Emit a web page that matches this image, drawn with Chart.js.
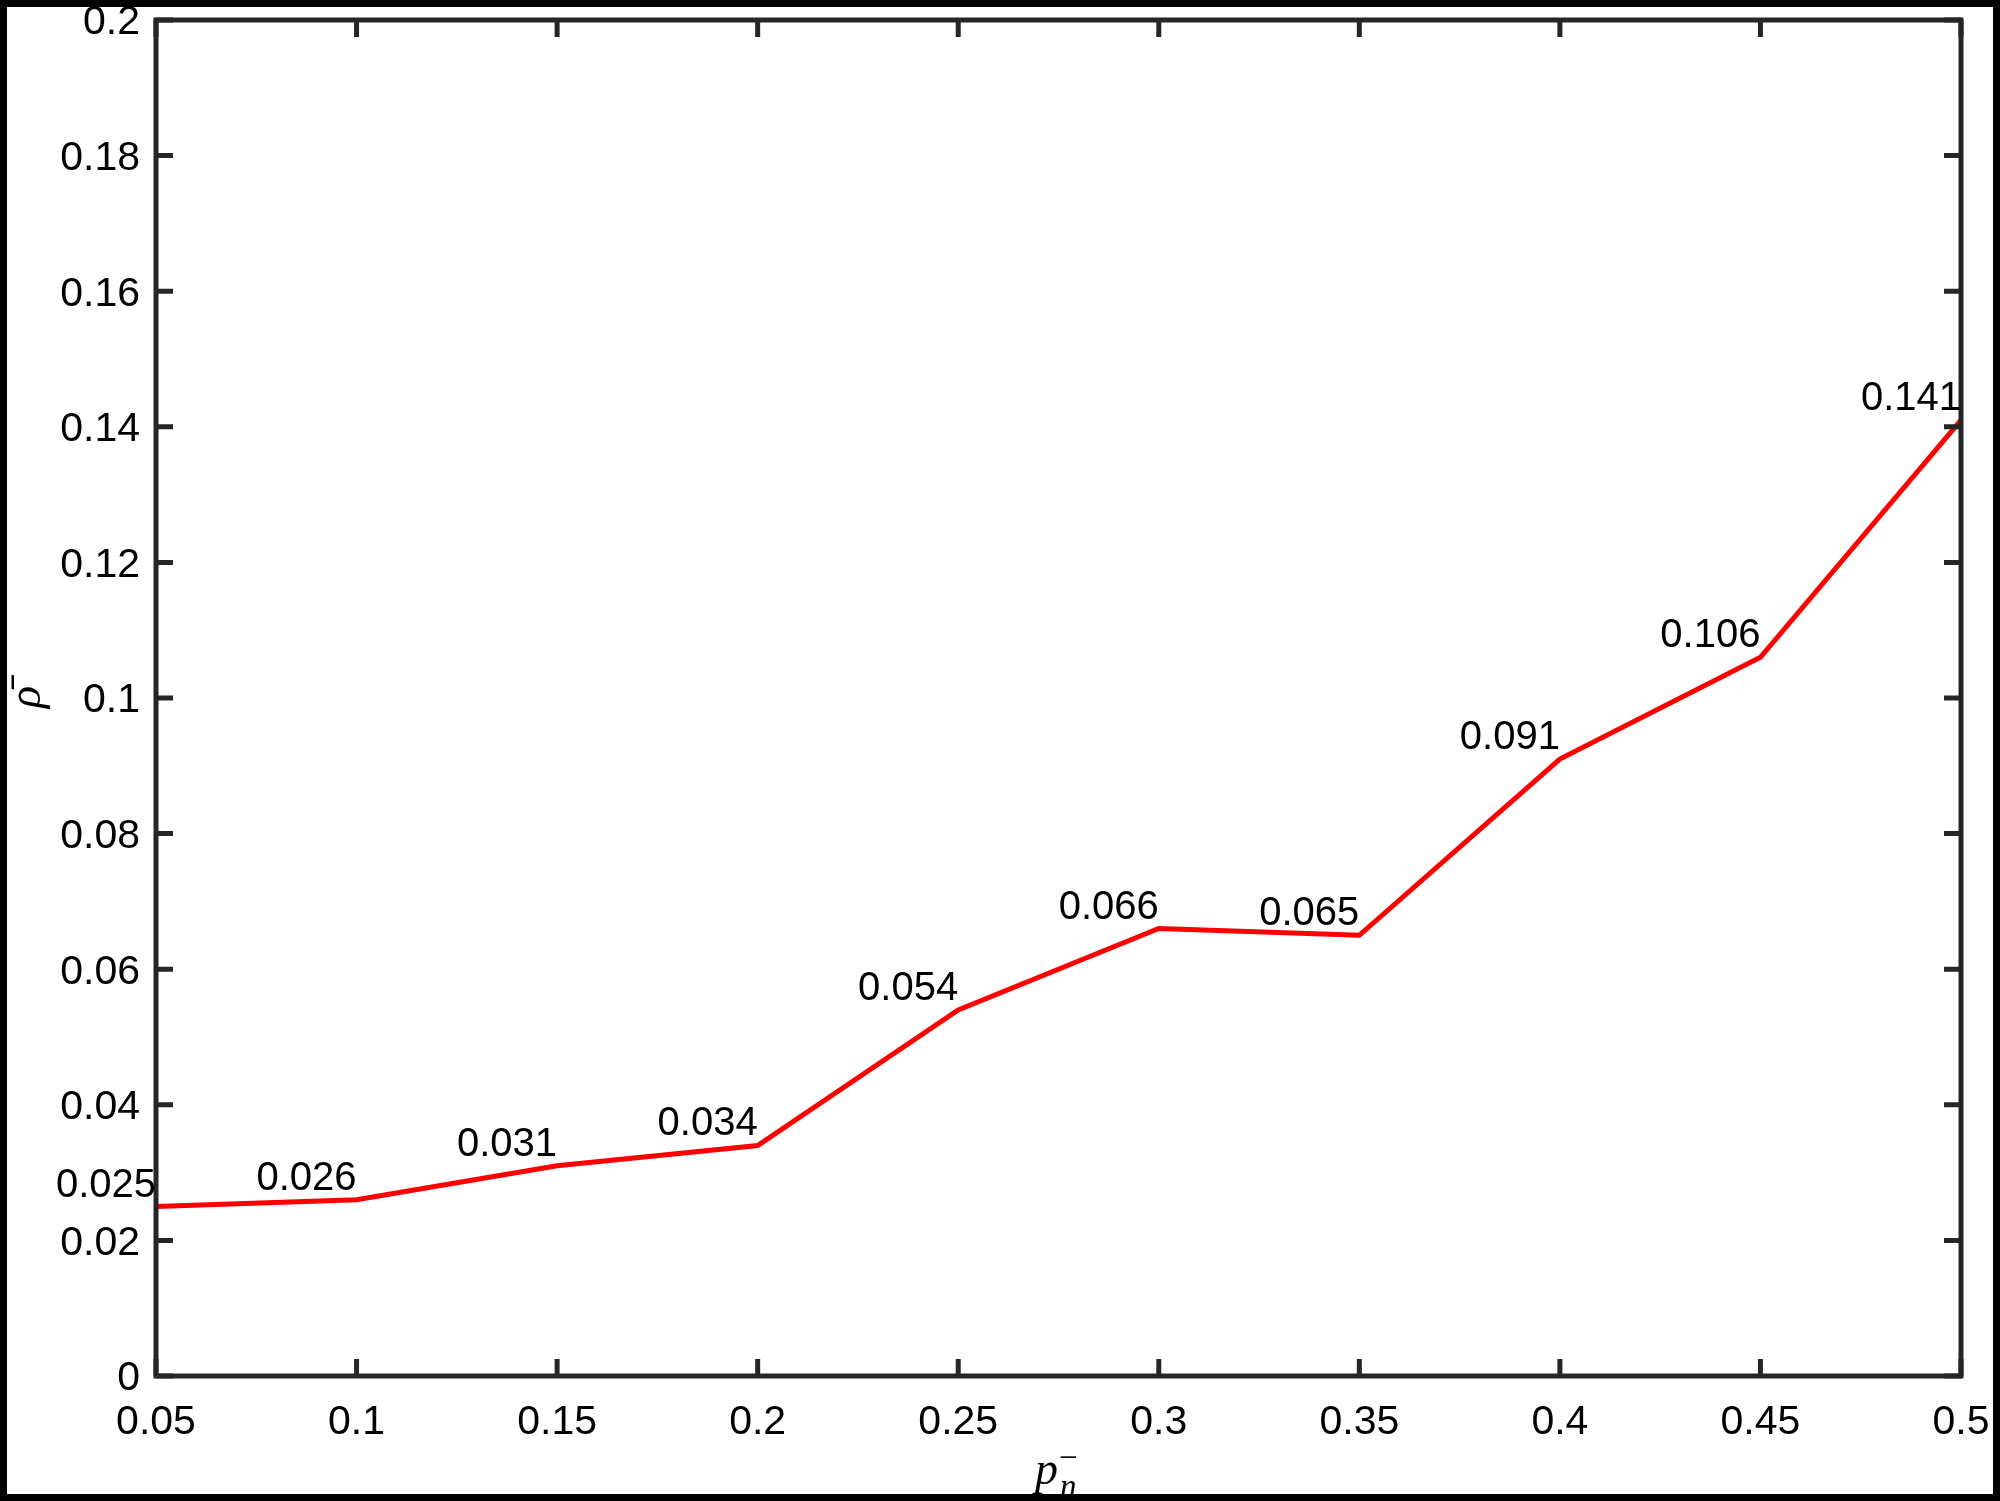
<!DOCTYPE html>
<html>
<head>
<meta charset="utf-8">
<script src="https://cdn.jsdelivr.net/npm/chart.js@4/dist/chart.umd.min.js"></script>
<style>
html,body{margin:0;padding:0;background:#fff;}
#wrap{width:2000px;height:1501px;position:relative;}
</style>
</head>
<body>
<div id="wrap"><canvas id="c" width="2000" height="1501"></canvas></div>
<script>
const xValues = [0.05, 0.1, 0.15, 0.2, 0.25, 0.3, 0.35, 0.4, 0.45, 0.5];
const rhoValues = [0.025, 0.026, 0.031, 0.034, 0.054, 0.066, 0.065, 0.091, 0.106, 0.141];
const pointLabels = ['0.025','0.026','0.031','0.034','0.054','0.066','0.065','0.091','0.106','0.141'];
const xTicks = [0.05, 0.1, 0.15, 0.2, 0.25, 0.3, 0.35, 0.4, 0.45, 0.5];
const yTicks = [0, 0.02, 0.04, 0.06, 0.08, 0.1, 0.12, 0.14, 0.16, 0.18, 0.2];

const AXC = '#262626';
const SANS = '"Liberation Sans", Arial, sans-serif';
const SERIF = '"Liberation Serif", "Times New Roman", serif';

const framePlugin = {
  id: 'frame',
  beforeDraw(chart) {
    const ctx = chart.ctx;
    ctx.save();
    ctx.fillStyle = '#fff';
    ctx.fillRect(0, 0, chart.width, chart.height);
    ctx.restore();
  },
  afterDraw(chart) {
    const ctx = chart.ctx;
    const a = chart.chartArea;
    const xs = chart.scales.x, ys = chart.scales.y;
    ctx.save();
    ctx.strokeStyle = AXC;
    ctx.lineWidth = 5;
    ctx.lineCap = 'butt';
    ctx.strokeRect(a.left, a.top, a.right - a.left, a.bottom - a.top);
    const TL = 17;
    ctx.beginPath();
    xTicks.forEach(v => {
      const px = xs.getPixelForValue(v);
      ctx.moveTo(px, a.bottom); ctx.lineTo(px, a.bottom - TL);
      ctx.moveTo(px, a.top); ctx.lineTo(px, a.top + TL);
    });
    yTicks.forEach(v => {
      const py = ys.getPixelForValue(v);
      ctx.moveTo(a.left, py); ctx.lineTo(a.left + TL, py);
      ctx.moveTo(a.right, py); ctx.lineTo(a.right - TL, py);
    });
    ctx.stroke();

    ctx.fillStyle = '#000';
    ctx.font = '40px ' + SANS;
    ctx.textAlign = 'right';
    ctx.textBaseline = 'alphabetic';
    const meta = chart.getDatasetMeta(0);
    meta.data.forEach((pt, i) => {
      ctx.fillText(pointLabels[i], pt.x, pt.y - 10);
    });

    ctx.textAlign = 'left';
    ctx.font = 'italic 46px ' + SERIF;
    const px0 = 1035;
    ctx.fillText('p', px0, 1484);
    ctx.font = 'italic 33px ' + SERIF;
    ctx.fillText('n', px0 + 25, 1497);
    ctx.font = '33px ' + SERIF;
    ctx.fillText('\u2212', px0 + 24, 1468);

    ctx.save();
    ctx.translate(40, 697);
    ctx.rotate(-Math.PI / 2);
    ctx.textAlign = 'center';
    ctx.font = 'italic 46px ' + SERIF;
    ctx.fillText('\u03C1\u0304', 0, 0);
    ctx.restore();

    ctx.strokeStyle = '#000';
    ctx.lineWidth = 7;
    ctx.strokeRect(3.5, 3.5, chart.width - 7, chart.height - 7);
    ctx.restore();
  }
};

new Chart(document.getElementById('c'), {
  type: 'line',
  data: {
    datasets: [{
      data: xValues.map((x, i) => ({x: x, y: rhoValues[i]})),
      borderColor: '#ff0000',
      borderWidth: 5,
      pointRadius: 0,
      fill: false,
      tension: 0
    }]
  },
  options: {
    responsive: false,
    animation: false,
    devicePixelRatio: 1,
    layout: { padding: { left: 0, top: 20, right: 39, bottom: 0 } },
    plugins: { legend: { display: false }, tooltip: { enabled: false } },
    scales: {
      x: {
        type: 'linear',
        min: 0.05, max: 0.5,
        afterBuildTicks(scale) { scale.ticks = xTicks.map(v => ({value: v})); },
        afterFit(scale) { scale.height = 125; scale.paddingLeft = 0; scale.paddingRight = 0; },
        grid: { display: false, drawTicks: false },
        border: { display: false },
        ticks: {
          padding: 22,
          color: '#000',
          font: { family: SANS, size: 41 },
          maxRotation: 0, autoSkip: false,
          callback: v => String(+v.toFixed(2))
        }
      },
      y: {
        type: 'linear',
        min: 0, max: 0.2,
        afterBuildTicks(scale) { scale.ticks = yTicks.map(v => ({value: v})); },
        afterFit(scale) { scale.width = 156; scale.paddingTop = 0; scale.paddingBottom = 0; },
        grid: { display: false, drawTicks: false },
        border: { display: false },
        ticks: {
          padding: 16,
          labelOffset: 3,
          color: '#000',
          font: { family: SANS, size: 41 },
          autoSkip: false,
          callback: v => String(+v.toFixed(2))
        }
      }
    }
  },
  plugins: [framePlugin]
});
</script>
</body>
</html>
